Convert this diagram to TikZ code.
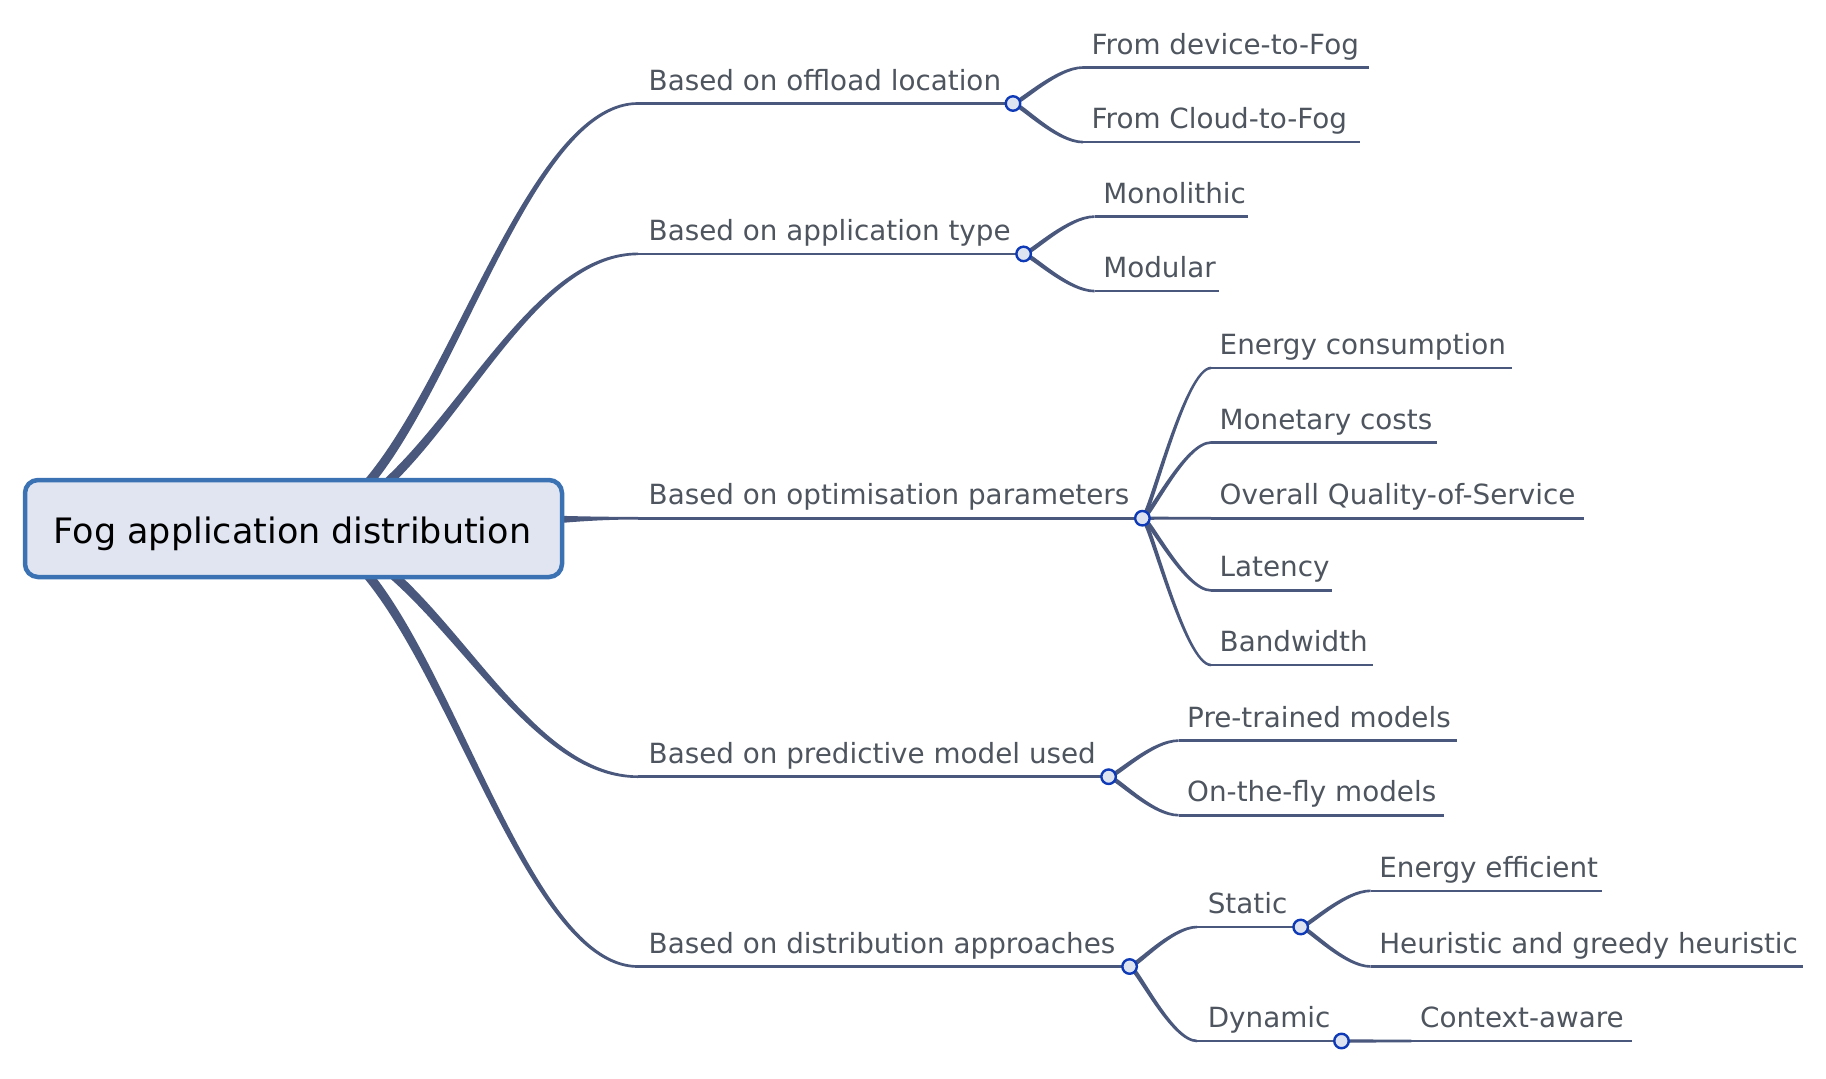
\documentclass[tikz,border=0pt]{standalone}
\usepackage{fontspec}
\setmainfont{DejaVu Sans}
\usetikzlibrary{calc}
\pgfdeclarelayer{bg}
\pgfsetlayers{bg,main}
\definecolor{linkc}{RGB}{73,88,124}
\definecolor{txtc}{RGB}{78,85,94}
\definecolor{boxb}{RGB}{58,114,180}
\definecolor{boxf}{RGB}{224,229,241}
\definecolor{dotb}{RGB}{14,58,184}
\definecolor{dotf}{RGB}{221,227,240}
\tikzset{
  rootbox/.style={draw=boxb, fill=boxf, line width=4.5pt, rounded corners=13pt,
    minimum width=537pt, minimum height=97pt, inner sep=0pt},
  roottext/.style={inner sep=0pt, font=\fontsize{35}{42}\selectfont, text=black},
  lbl/.style={anchor=base west, inner sep=0pt, text=txtc, font=\fontsize{27.8}{33}\selectfont},
  dot/.style={circle, draw=dotb, fill=dotf, line width=2.4pt, minimum size=14.5pt, inner sep=0pt},
  uline/.style={draw=linkc, line width=2.6pt}
}
% tapered link: [first control fraction] source, target, h0, v0, offset at second control
\newcommand\taperlink[6][0.1]{%
  \fill[linkc] let \p1=(#2), \p2=(#3), \n1={\x1+#1*(\x2-\x1)}, \n3={\x1+0.62*(\x2-\x1)}, \n2={sign(\y2-\y1)} in
    ({\x1-\n2*#4pt},{\y1+#5pt}) .. controls ({\n1*1pt-\n2*#4pt},{\y1+#5pt}) and ({\n3*1pt-\n2*#6pt},{\y2+#6pt}) .. (\x2,{\y2+1.3pt})
    -- (\x2,{\y2-1.3pt}) .. controls ({\n3*1pt+\n2*#6pt},{\y2-#6pt}) and ({\n1*1pt+\n2*#4pt},{\y1-#5pt}) .. ({\x1+\n2*#4pt},{\y1-#5pt}) -- cycle;}
% leaf: name, y, start, end, text
\newcommand\mmleaf[5]{%
  \coordinate (#1s) at (#3,#2);
  \coordinate (#1e) at (#4,#2);
  \node[lbl] (#1) at ({#3+8.5},{#2-13.5}) {#5};
  \begin{pgfonlayer}{bg}\draw[uline] (#1s) -- (#1e);\end{pgfonlayer}}
% branch: name, y, start, circle x, text
\newcommand\mmbranch[5]{%
  \coordinate (#1s) at (#3,#2);
  \node[dot] (#1d) at (#4,#2) {};
  \node[lbl] (#1) at ({#3+10.5},{#2-13.5}) {#5};
  \begin{pgfonlayer}{bg}\draw[uline] (#1s) -- (#1d.center);\end{pgfonlayer}}
\begin{document}
\begin{tikzpicture}[x=1pt,y=-1pt]
\useasboundingbox (0,0) rectangle (1826,1079);
\node[rootbox] (root) at (293.5,528.5) {};
\node[roottext] (rootlbl) at (292.5,533.5) {Fog application distribution};

\mmbranch{a1}{103.5}{638}{1013}{Based on offload location}
\mmbranch{a2}{253.9}{638}{1023.6}{Based on application type}
\mmbranch{a3}{518.2}{638}{1142.4}{Based on optimisation parameters}
\mmbranch{a4}{776.7}{638}{1108.6}{Based on predictive model used}
\mmbranch{a5}{966.5}{638}{1129.6}{Based on distribution approaches}

\mmleaf{b11}{67.5}{1083}{1369.4}{From device-to-Fog}
\mmleaf{b12}{142.1}{1083}{1360.1}{From Cloud-to-Fog}
\mmleaf{b21}{216.6}{1094.6}{1248.3}{Monolithic}
\mmleaf{b22}{291.1}{1094.6}{1219.2}{Modular}
\mmleaf{b31}{368}{1211}{1511.5}{Energy consumption}
\mmleaf{b32}{442.5}{1211}{1437}{Monetary costs}
\mmleaf{b33}{518.2}{1211}{1583.7}{Overall Quality-of-Service}
\mmleaf{b34}{590.4}{1211}{1332.2}{Latency}
\mmleaf{b35}{665}{1211}{1373}{Bandwidth}
\mmleaf{b41}{740.6}{1178.5}{1456.8}{Pre-trained models}
\mmleaf{b42}{815.2}{1178.5}{1444}{On-the-fly models}
\mmbranch{b51}{927}{1197.1}{1300.7}{Static}
\mmbranch{b52}{1041}{1197.1}{1341.5}{Dynamic}
\mmleaf{c11}{890.8}{1370.6}{1602.4}{Energy efficient}
\mmleaf{c12}{966.5}{1370.6}{1802.6}{Heuristic and greedy heuristic}
\mmleaf{c21}{1041}{1411.4}{1631.5}{Context-aware}

\begin{pgfonlayer}{bg}
\taperlink[0.38]{root.center}{a1s}{3.6}{3.6}{1.8}
\taperlink[0.38]{root.center}{a2s}{3.6}{3.6}{1.8}
\taperlink[0.38]{root.center}{a3s}{0}{21}{1.3}
\taperlink[0.38]{root.center}{a4s}{3.6}{3.6}{1.8}
\taperlink[0.38]{root.center}{a5s}{3.6}{3.6}{1.8}
\taperlink{a1d.center}{b11s}{1.6}{1.6}{1.3}
\taperlink{a1d.center}{b12s}{1.6}{1.6}{1.3}
\taperlink{a2d.center}{b21s}{1.6}{1.6}{1.3}
\taperlink{a2d.center}{b22s}{1.6}{1.6}{1.3}
\taperlink{a3d.center}{b31s}{1.6}{1.6}{1.3}
\taperlink{a3d.center}{b32s}{1.6}{1.6}{1.3}
\taperlink{a3d.center}{b33s}{0}{1.6}{1.3}
\taperlink{a3d.center}{b34s}{1.6}{1.6}{1.3}
\taperlink{a3d.center}{b35s}{1.6}{1.6}{1.3}
\taperlink{a4d.center}{b41s}{1.6}{1.6}{1.3}
\taperlink{a4d.center}{b42s}{1.6}{1.6}{1.3}
\taperlink{a5d.center}{b51s}{1.6}{1.6}{1.3}
\taperlink{a5d.center}{b52s}{1.6}{1.6}{1.3}
\taperlink{b51d.center}{c11s}{1.5}{1.5}{1.3}
\taperlink{b51d.center}{c12s}{1.5}{1.5}{1.3}
\taperlink{b52d.center}{c21s}{0}{1.8}{1.3}
\end{pgfonlayer}
\end{tikzpicture}
\end{document}
